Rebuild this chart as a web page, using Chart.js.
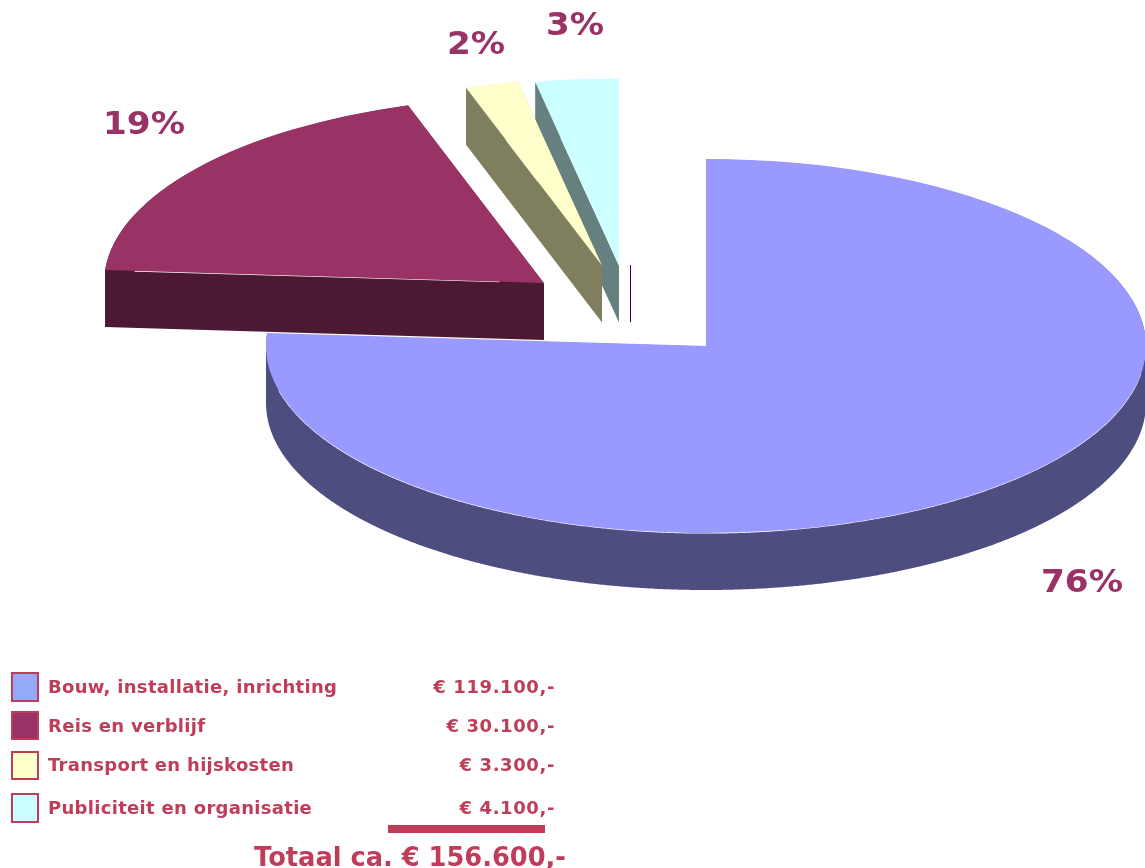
<!DOCTYPE html>
<html>
<head>
<meta charset="utf-8">
<title>Kosten</title>
<script src="https://cdn.jsdelivr.net/npm/chart.js@4/dist/chart.umd.min.js"></script>
<style>
  html, body { margin: 0; padding: 0; background: #fff; }
  canvas { display: block; }
</style>
</head>
<body>
<canvas id="chart-kosten" width="1145" height="868"></canvas>
<script>
// slice sizes, the last one is the empty slice
const SLICE_NAMES = ['Bouw, installatie, inrichting', 'Reis en verblijf', 'Transport en hijskosten', 'Publiciteit en organisatie', ''];
const SLICE_PCT = [76.1, 18.9, 1.95, 3.05, 0];
const PCT_LABELS = ['76%', '19%', '2%', '3%'];
const AMOUNTS = ['€ 119.100,-', '€ 30.100,-', '€ 3.300,-', '€ 4.100,-'];
const TOTAL_LABEL = 'Totaal ca. € 156.600,-';

const TOP_COLORS = ['#9999ff', '#993366', '#ffffcc', '#ccffff', '#993366'];
const SIDE_COLORS = ['#4d4d7f', '#4c1933', '#7f7f60', '#667f7f', '#40003f'];
const SWATCH_COLORS = ['#94a9f8', '#993366', '#ffffcc', '#ccffff'];
const TEXT_COLOR = '#bf3d58';
const PCT_COLOR = '#993366';

const SQUASH = 0.425;
const DEPTH = 57;
const RADIUS = 440;
// how far each slice is pulled out of the pie, on screen
const SLICE_SHIFT = [[0, 0], [-162, -63], [-104, -80.5], [-87, -80.5], [-76, -81]];
const DRAW_ORDER = [0, 1, 3, 2];
const PCT_POS = [[1041, 592], [103, 134], [447, 54], [546, 35]];
const PCT_STRETCH = 1.07;
const LEGEND_ROWS = [
  { boxTop: 673, boxH: 28, base: 693 },
  { boxTop: 712, boxH: 27, base: 732 },
  { boxTop: 752, boxH: 27, base: 771 },
  { boxTop: 794, boxH: 28, base: 814 }
];

// outline of a slice on screen: apex, then along the rim, back to the apex
function sliceOutline(arc, idx) {
  const [dx, dy] = SLICE_SHIFT[idx];
  const cx = arc.x + dx;
  const cy = arc.y + dy;
  const pts = [[cx, cy]];
  const step = Math.PI / 720;
  for (let a = arc.startAngle; a < arc.endAngle; a += step) {
    pts.push([cx + arc.outerRadius * Math.cos(a), cy + arc.outerRadius * SQUASH * Math.sin(a)]);
  }
  pts.push([cx + arc.outerRadius * Math.cos(arc.endAngle), cy + arc.outerRadius * SQUASH * Math.sin(arc.endAngle)]);
  pts.push([cx, cy]);
  return pts;
}

// side wall as one path so the edges only get antialiased once,
// starts a bit under the rim or it shows as a dark fringe around the top face
function drawWall(ctx, arc, idx) {
  const pts = sliceOutline(arc, idx);
  const inset = 0.6;
  ctx.beginPath();
  for (let i = 1; i < pts.length; i++) {
    let p = pts[i - 1];
    let q = pts[i];
    if (p[0] === q[0]) continue;
    if (p[0] > q[0]) [p, q] = [q, p];
    ctx.moveTo(p[0], p[1] + inset);
    ctx.lineTo(q[0], q[1] + inset);
    ctx.lineTo(q[0], q[1] + DEPTH);
    ctx.lineTo(p[0], p[1] + DEPTH);
    ctx.closePath();
  }
  ctx.fillStyle = SIDE_COLORS[idx];
  ctx.fill();
}

const pie3dPlugin = {
  id: 'pie3d',
  beforeDatasetDraw(chart, args) {
    const { ctx } = chart;
    const arcs = args.meta.data;

    DRAW_ORDER.forEach((idx) => {
      const arc = arcs[idx];
      const [dx, dy] = SLICE_SHIFT[idx];
      drawWall(ctx, arc, idx);
      ctx.save();
      ctx.translate(arc.x + dx, arc.y + dy);
      ctx.scale(1, SQUASH);
      ctx.translate(-arc.x, -arc.y);
      arc.draw(ctx);
      ctx.restore();
    });

    // the empty slice only shows as a thin line
    const zero = arcs[4];
    const px = Math.round(zero.x + SLICE_SHIFT[4][0]);
    const py = zero.y + SLICE_SHIFT[4][1];
    ctx.save();
    ctx.strokeStyle = SIDE_COLORS[4];
    ctx.lineWidth = 1;
    ctx.beginPath();
    ctx.moveTo(px + 0.5, py);
    ctx.lineTo(px + 0.5, py + DEPTH);
    ctx.stroke();
    ctx.restore();

    return false;
  },
  afterDraw(chart) {
    const { ctx } = chart;
    ctx.save();
    ctx.textBaseline = 'alphabetic';

    ctx.fillStyle = PCT_COLOR;
    ctx.font = 'bold 32px "DejaVu Sans"';
    ctx.textAlign = 'left';
    PCT_LABELS.forEach((label, i) => {
      ctx.save();
      ctx.translate(PCT_POS[i][0], PCT_POS[i][1]);
      ctx.scale(PCT_STRETCH, 1);
      ctx.fillText(label, 0, 0);
      ctx.restore();
    });

    ctx.font = 'bold 18px "DejaVu Sans"';
    LEGEND_ROWS.forEach((row, i) => {
      ctx.fillStyle = SWATCH_COLORS[i];
      ctx.fillRect(12, row.boxTop, 26, row.boxH);
      ctx.strokeStyle = TEXT_COLOR;
      ctx.lineWidth = 2;
      ctx.strokeRect(12, row.boxTop, 26, row.boxH);

      ctx.fillStyle = TEXT_COLOR;
      ctx.letterSpacing = '0.3px';
      ctx.textAlign = 'left';
      ctx.fillText(SLICE_NAMES[i], 48, row.base);
      ctx.letterSpacing = '0.6px';
      ctx.textAlign = 'right';
      ctx.fillText(AMOUNTS[i], 555, row.base);
    });

    ctx.letterSpacing = '0px';
    ctx.fillStyle = TEXT_COLOR;
    ctx.fillRect(388, 825, 157, 8);
    ctx.font = 'bold 25.7px "DejaVu Sans"';
    ctx.textAlign = 'right';
    ctx.fillText(TOTAL_LABEL, 566, 866);
    ctx.restore();
  }
};

new Chart(document.getElementById('chart-kosten'), {
  type: 'pie',
  data: {
    labels: SLICE_NAMES,
    datasets: [{
      data: SLICE_PCT,
      backgroundColor: TOP_COLORS,
      borderWidth: 0,
      radius: RADIUS,
      clip: false
    }]
  },
  options: {
    responsive: false,
    animation: false,
    // puts the pie centre at 706,346
    layout: { padding: { left: 267, right: 0, top: 0, bottom: 176 } },
    plugins: {
      legend: { display: false },
      tooltip: { enabled: false }
    }
  },
  plugins: [pie3dPlugin]
});
</script>
</body>
</html>
